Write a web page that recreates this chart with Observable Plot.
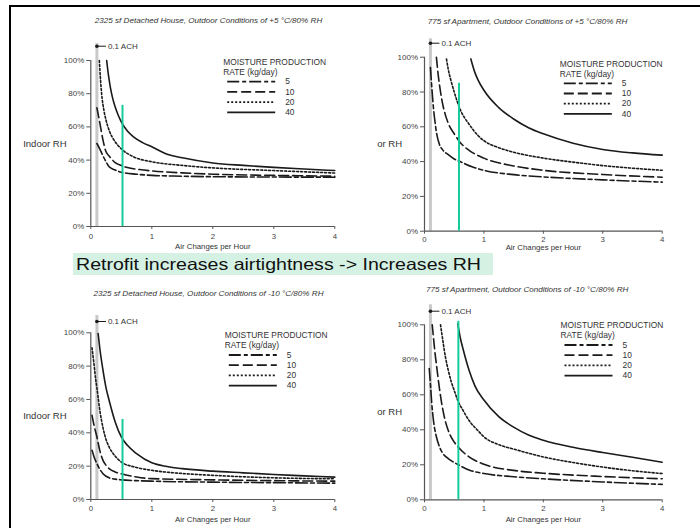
<!DOCTYPE html>
<html>
<head>
<meta charset="utf-8">
<script src="https://cdn.jsdelivr.net/npm/d3@7"></script>
<script src="https://cdn.jsdelivr.net/npm/@observablehq/plot@0.6"></script>
<style>
  html, body { margin: 0; padding: 0; background: #fff; }
  #page { position: relative; width: 700px; height: 528px; overflow: hidden; background: #fff; font-family: "Liberation Sans", Arial, sans-serif; }
  .panel { position: absolute; }
  .frameTop { position: absolute; left: 9px; top: 5px; width: 691px; height: 2px; background: #000; }
  .frameLeft { position: absolute; left: 9px; top: 5px; width: 2px; height: 523px; background: #000; }
  #banner { position: absolute; left: 73px; top: 253px; width: 420px; height: 22px; background: #d5f1e4; color: #111;
            line-height: 22px; box-sizing: border-box; white-space: nowrap; z-index: 5; }
  #banner span { display: inline-block; font-size: 16.5px; transform-origin: 0 50%; margin-left: 3px; }
</style>
</head>
<body>
<div id="page">
  <div class="frameTop"></div>
  <div class="frameLeft"></div>
  <div id="pA" class="panel"></div>
  <div id="pB" class="panel"></div>
  <div id="pC" class="panel"></div>
  <div id="pD" class="panel"></div>
  <div id="banner"><span></span></div>
</div>
<script>
// ---------- text ----------
const bannerText = "Retrofit increases airtightness -> Increases RH";
const titles = [
  "2325 sf Detached House, Outdoor Conditions of +5 \u00B0C/80% RH",
  "775 sf Apartment, Outdoor Conditions of +5 \u00B0C/80% RH",
  "2325 sf Detached House, Outdoor Conditions of -10 \u00B0C/80% RH",
  "775 sf Apartment, Outdoor Conditions of -10 \u00B0C/80% RH"
];
const yLabels = ["Indoor RH", "or RH", "Indoor RH", "or RH"];
const xLabel = "Air Changes per Hour";
const legendHeader = ["MOISTURE PRODUCTION", "RATE (kg/day)"];
const rates = ["5", "10", "20", "40"];
const markerLabel = "0.1 ACH";
const markerACH = 0.1;
const xTicks = [0, 1, 2, 3, 4];
const yTicks = [0, 20, 40, 60, 80, 100];

// ---------- data: Panel A (house, +5 C) ----------
const achA5  = [0.10,0.15,0.20,0.25,0.30,0.40,0.50,0.75,1.0,1.5,2.0,3.0,4.0];
const rhA5   = [50,46.5,42.5,39,36,34,32.7,31.5,30.8,30.3,30.0,29.8,29.7];
const achA10 = [0.10,0.15,0.20,0.25,0.30,0.40,0.50,0.60,0.80,1.0,1.5,2.0,3.0,4.0];
const rhA10  = [71.5,62,52,45,42.5,38.5,36.7,35.5,34.3,33.5,32.3,31.5,30.8,30.3];
const achA20 = [0.14,0.16,0.18,0.21,0.25,0.30,0.40,0.50,0.70,1.0,1.5,2.0,3.0,4.0];
const rhA20  = [100,88,79,71,64,58,51,46.8,42,39,36.8,35.3,33.7,32.2];
const achA40 = [0.26,0.29,0.32,0.36,0.40,0.45,0.50,0.60,0.70,0.85,1.0,1.25,1.5,2.0,2.5,3.0,3.5,4.0];
const rhA40  = [100,91,84,77,72,67,63,57.5,54,50.5,48,43.5,41.4,38.3,36.8,35.6,34.6,33.7];

// ---------- data: Panel B (apartment, +5 C) ----------
const achB5  = [0.10,0.12,0.15,0.18,0.20,0.25,0.30,0.40,0.50,0.60,0.80,1.0,1.5,2.0,3.0,4.0];
const rhB5   = [94,84,71,62,57,50,47,44,41.5,40,37,35,32.5,31.2,29.5,28.2];
const achB10 = [0.20,0.23,0.27,0.30,0.35,0.40,0.50,0.60,0.75,1.0,1.5,2.0,3.0,4.0];
const rhB10  = [100,90,80,74,67,62,56,51,46.5,42,37.5,35,32.6,31];
const achB20 = [0.37,0.40,0.45,0.50,0.60,0.75,0.90,1.0,1.25,1.5,2.0,2.5,3.0,3.5,4.0];
const rhB20  = [99,93,86,80,70,61.5,55,52,48,45.4,42,39.7,37.7,36.2,35];
const achB40 = [0.78,0.85,0.90,1.0,1.25,1.5,1.75,2.0,2.5,3.0,3.5,4.0];
const rhB40  = [99,91,87,81,71,64.5,59.5,56,50.6,47,45,43.7];

// ---------- data: Panel C (house, -10 C) ----------
const achC5  = [0.02,0.05,0.10,0.15,0.20,0.30,0.40,0.50,0.75,1.0,2.0,3.0,4.0];
const rhC5   = [29.5,26,21.5,18,15.5,13,12.2,11.8,11.3,11,10.4,10.1,9.8];
const achC10 = [0.02,0.05,0.10,0.15,0.20,0.25,0.30,0.40,0.50,0.75,1.0,2.0,3.0,4.0];
const rhC10  = [50.5,45,37.5,29,23.5,20.5,18.5,16.5,15.4,13.5,12.5,11.8,11.3,11];
const achC20 = [0.02,0.05,0.08,0.10,0.15,0.20,0.25,0.30,0.40,0.50,0.75,1.0,1.5,2.0,3.0,4.0];
const rhC20  = [91,82,72,67,53,43,36,31.5,26,22.5,19.2,17.5,15.6,14.5,13,12.4];
const achC40 = [0.12,0.15,0.20,0.25,0.30,0.40,0.50,0.60,0.75,1.0,1.25,1.5,2.0,2.5,3.0,3.5,4.0];
const rhC40  = [99.5,90,77.5,67,59.5,46.5,37.5,32.5,27.5,22,19.8,18.5,17,16,15,14.2,13.4];

// ---------- data: Panel D (apartment, -10 C) ----------
const achD5  = [0.08,0.10,0.12,0.15,0.20,0.25,0.30,0.40,0.50,0.57,0.75,1.0,1.5,2.0,3.0,4.0];
const rhD5   = [75,66,56,45.5,36,30.5,27,23.5,21.3,20,17,15,13.2,12,10.2,8.8];
const achD10 = [0.13,0.15,0.18,0.20,0.25,0.30,0.35,0.40,0.50,0.57,0.75,1.0,1.5,2.0,3.0,4.0];
const rhD10  = [100,93,83,77.5,64,53,45,39.6,33,30,24.5,20.3,16.8,15.2,13.3,12];
const achD20 = [0.27,0.30,0.35,0.40,0.45,0.50,0.57,0.65,0.75,0.90,1.0,1.25,1.5,2.0,2.5,3.0,3.5,4.0];
const rhD20  = [100,93,82,74,67.5,62.5,56,51,45.3,39.5,36,31.5,29,24.5,21.3,18.7,16.6,15];
const achD40 = [0.56,0.60,0.65,0.75,0.85,1.0,1.25,1.5,1.75,2.0,2.5,3.0,3.5,4.0];
const rhD40  = [100.5,93,86,74,65,57,47.5,41.5,37,34,30,27,24.3,21.5];

// ---------- retrofit marker (green line): ACH and top RH ----------
const retrofitACH = [0.52, 0.58, 0.52, 0.57];
const retrofitTop = [73, 85, 48, 102];

// ---------- styles ----------
const dashes = ["12,3,4,3", "10,4", "2,2", null];
const ink = "#1a1a1a";
const axisInk = "#555";
const green = "#14cc99";

// ---------- layout (pixels) ----------
const layout = [
  {id: "pA", left: 12,  top: 8,   x0: 90.3, x4: 334.3, y0: 226,   y100: 60,    titleDx: 117.7, titleDy: -40,  legTop: 1.7, legLeft: 132.4, bandTop: 17,   dotTop: 14.3, xLabDy: 22,   tickPad: 3.5},
  {id: "pB", left: 352, top: 8,   x0: 424,  x4: 661.7, y0: 230.7, y100: 56.7,  titleDx: 103,   titleDy: -36,  legTop: 6.6, legLeft: 135.3, bandTop: 18.4, dotTop: 14,   xLabDy: 19,   tickPad: 2},
  {id: "pC", left: 12,  top: 278, x0: 90.3, x4: 334.3, y0: 499,   y100: 332.3, titleDx: 117.7, titleDy: -39,  legTop: 2.7, legLeft: 134,   bandTop: 17.3, dotTop: 11.3, xLabDy: 22.7, tickPad: 2.5},
  {id: "pD", left: 352, top: 278, x0: 424,  x4: 661.7, y0: 499.3, y100: 324.3, titleDx: 102.7, titleDy: -35.3, legTop: 0.7, legLeft: 136,  bandTop: 20,   dotTop: 13.6, xLabDy: 22.4, tickPad: 2.5}
];
const W = 340, H = 250;
const bannerTextWidth = 405;

const seriesData = [
  [[achA5, rhA5], [achA10, rhA10], [achA20, rhA20], [achA40, rhA40]],
  [[achB5, rhB5], [achB10, rhB10], [achB20, rhB20], [achB40, rhB40]],
  [[achC5, rhC5], [achC10, rhC10], [achC20, rhC20], [achC40, rhC40]],
  [[achD5, rhD5], [achD10, rhD10], [achD20, rhD20], [achD40, rhD40]]
];

const bspan = document.querySelector("#banner span");
bspan.textContent = bannerText;
const natural = bspan.getBoundingClientRect().width;
bspan.style.transform = `scaleX(${bannerTextWidth / natural})`;

layout.forEach((L, i) => {
  const pxX = 4 / (L.x4 - L.x0);          // data units per px (x)
  const pxY = 100 / (L.y0 - L.y100);      // data units per px (y)
  const dx = px => px * pxX;              // px offset from x=0 -> data
  const dy = px => 100 - px * pxY;        // px offset from frame top -> data

  const marks = [];

  // 0.1 ACH band
  marks.push(Plot.ruleX([markerACH], {y1: 0, y2: dy(-L.bandTop), stroke: "#c9c9c9", strokeWidth: 3}));

  // axis lines
  marks.push(Plot.ruleX([0], {y1: 0, y2: 100, stroke: axisInk, strokeWidth: 1.2}));
  marks.push(Plot.ruleY([0], {x1: 0, x2: 4, stroke: axisInk, strokeWidth: 1.2}));

  // curves
  seriesData[i].forEach(([xs, ys], k) => {
    const pts = xs.map((x, j) => ({ach: x, rh: ys[j]}));
    marks.push(Plot.line(pts, {x: "ach", y: "rh", curve: "monotone-x", stroke: ink, strokeWidth: 1.6,
      strokeDasharray: dashes[k] || undefined}));
  });

  // retrofit green line
  marks.push(Plot.ruleX([retrofitACH[i]], {y1: 0, y2: retrofitTop[i], stroke: green, strokeWidth: 2}));

  // 0.1 ACH marker dot + leader + label
  const my = dy(-L.dotTop);
  marks.push(Plot.link([{x1: markerACH, x2: markerACH + dx(9), y: my}], {x1: "x1", x2: "x2", y1: "y", y2: "y", stroke: ink, strokeWidth: 1}));
  marks.push(Plot.dot([{x: markerACH, y: my}], {x: "x", y: "y", r: 1.8, fill: ink, stroke: null}));
  marks.push(Plot.text([{x: markerACH + dx(11), y: my, t: markerLabel}], {x: "x", y: "y", text: "t", textAnchor: "start", fontSize: 8, fill: "#333"}));

  // legend
  const lx = dx(L.legLeft);
  marks.push(Plot.text([{x: lx, y: dy(L.legTop), t: legendHeader[0]}, {x: lx, y: dy(L.legTop + 10), t: legendHeader[1]}],
    {x: "x", y: "y", text: "t", textAnchor: "start", fontSize: 8.4, fill: "#333"}));
  rates.forEach((r, k) => {
    const ry = dy(L.legTop + 19.5 + k * 10.2);
    marks.push(Plot.link([{x1: dx(L.legLeft + 4), x2: dx(L.legLeft + 52), y: ry}],
      {x1: "x1", x2: "x2", y1: "y", y2: "y", stroke: ink, strokeWidth: 1.8, strokeDasharray: dashes[k] || undefined}));
    marks.push(Plot.text([{x: dx(L.legLeft + 62), y: ry, t: r}], {x: "x", y: "y", text: "t", textAnchor: "start", fontSize: 8.4, fill: "#333"}));
  });

  // title
  marks.push(Plot.text([{x: dx(L.titleDx), y: dy(L.titleDy), t: titles[i]}],
    {x: "x", y: "y", text: "t", fontSize: 8.1, fontStyle: "italic", fill: "#333"}));

  // y label
  marks.push(Plot.text([yLabels[i]], {frameAnchor: "left", dx: i % 2 === 0 ? -67.6 : -47.3, textAnchor: "start", fontSize: 9.5, fill: "#333"}));
  // x label
  marks.push(Plot.text([xLabel], {frameAnchor: "bottom", dy: L.xLabDy, fontSize: 7.8, fill: "#333"}));

  // axes
  marks.push(Plot.axisX({ticks: xTicks, tickFormat: d3.format("d"), tickSize: 3, tickPadding: L.tickPad, fontSize: 7.8, label: null, stroke: axisInk, color: "#444"}));
  marks.push(Plot.axisY({ticks: yTicks, tickSize: 4, tickPadding: 2.5, tickFormat: d => d + "%", fontSize: 8, label: null, stroke: axisInk, color: "#444"}));

  const chart = Plot.plot({
    width: W, height: H,
    marginLeft: L.x0 - L.left,
    marginRight: L.left + W - L.x4,
    marginTop: L.y100 - L.top,
    marginBottom: L.top + H - L.y0,
    x: {domain: [0, 4]},
    y: {domain: [0, 100]},
    style: {fontFamily: "'Liberation Sans', Arial, sans-serif", background: "transparent", overflow: "visible", color: "#444"},
    marks
  });
  const host = document.getElementById(L.id);
  host.style.left = L.left + "px";
  host.style.top = L.top + "px";
  host.appendChild(chart);
});
</script>
</body>
</html>
